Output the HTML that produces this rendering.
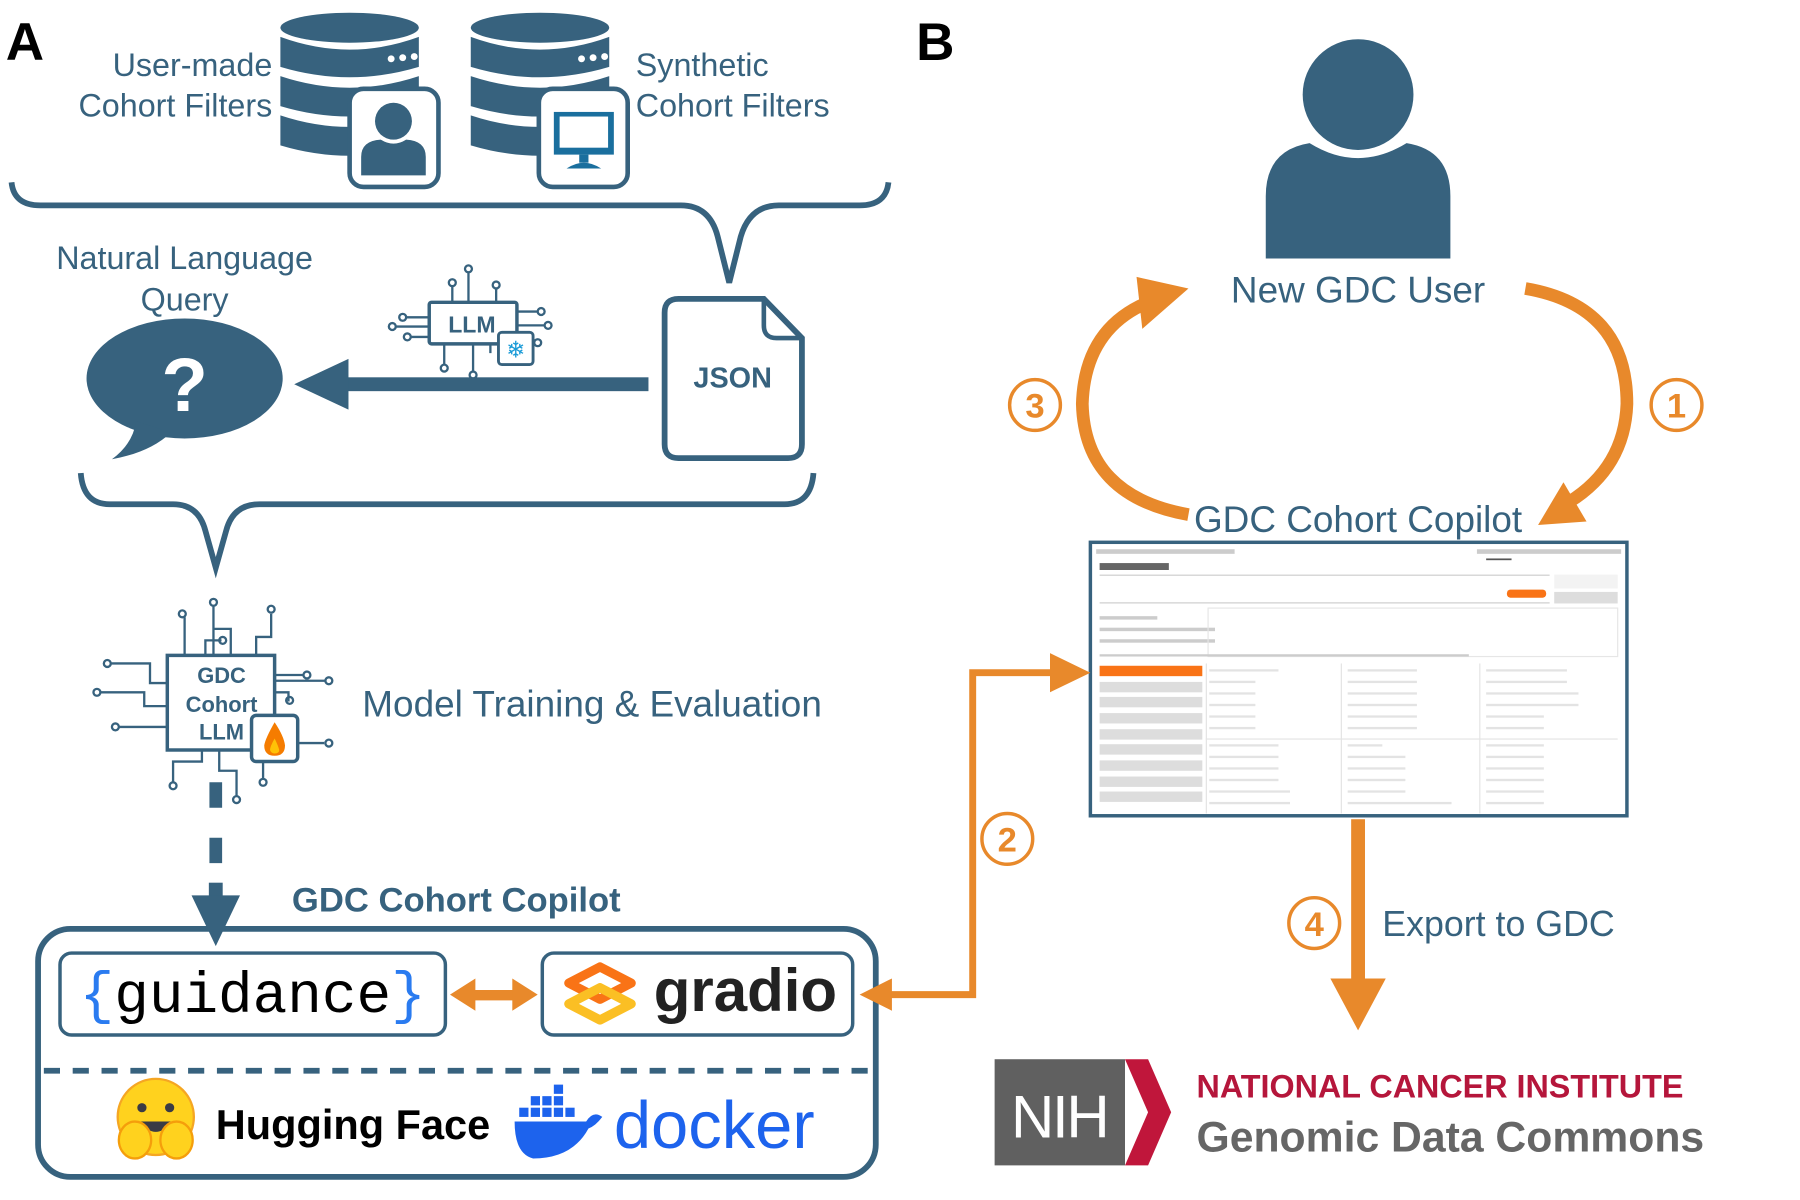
<!DOCTYPE html>
<html><head><meta charset="utf-8"><style>
html,body{margin:0;padding:0;background:#fff;}
svg{display:block;}
text{font-family:"Liberation Sans",sans-serif;}
text.mono{font-family:"Liberation Mono",monospace;}
</style></head><body>
<svg width="1800" height="1200" viewBox="0 0 1560 1040" xmlns="http://www.w3.org/2000/svg">
<defs>
<g id="db">
  <ellipse cx="60" cy="14" rx="60" ry="13" fill="#37627e"/>
  <path d="M0,22 Q60,44 120,22 L120,48 Q60,66 0,48Z" fill="#37627e"/>
  <path d="M0,56 Q60,76 120,56 L120,82 Q60,100 0,82Z" fill="#37627e"/>
  <path d="M0,90 Q60,110 120,90 L120,116 Q60,134 0,116Z" fill="#37627e"/>
  <circle cx="96" cy="41" r="3" fill="#fff"/><circle cx="106" cy="40" r="3" fill="#fff"/><circle cx="116" cy="39" r="3" fill="#fff"/>
</g>
</defs>

<text x="5" y="52" font-size="46" font-weight="bold" fill="#000">A</text>
<text x="794" y="52" font-size="46" font-weight="bold" fill="#000">B</text>

<use href="#db" x="243" y="10"/>
<rect x="303" y="77" width="77" height="85" rx="12" fill="#fff" stroke="#37627e" stroke-width="4"/>
<circle cx="341" cy="105" r="16" fill="#37627e"/>
<path d="M313,152 L313,136 Q313,122 330,121 Q341,128 352,121 Q369,122 369,136 L369,152Z" fill="#37627e"/>
<use href="#db" x="408" y="10"/>
<rect x="467" y="77" width="77" height="85" rx="12" fill="#fff" stroke="#37627e" stroke-width="4"/>
<rect x="480" y="97" width="52" height="37" fill="#1a6f9e"/>
<rect x="485" y="101" width="42" height="27" fill="#fff"/>
<rect x="502" y="134" width="8" height="7" fill="#1a6f9e"/>
<path d="M491,146 Q506,136 521,146Z" fill="#1a6f9e"/>

<g font-size="28" fill="#37627e">
<text x="236" y="66" text-anchor="end">User-made</text>
<text x="236" y="101" text-anchor="end">Cohort Filters</text>
<text x="551" y="66">Synthetic</text>
<text x="551" y="101">Cohort Filters</text>
<text x="160" y="233" text-anchor="middle">Natural Language</text>
<text x="160" y="269" text-anchor="middle">Query</text>
<text x="314" y="621" font-size="32">Model Training &amp; Evaluation</text>
</g>

<path d="M10,158 Q12,178 35,178 L590,178 Q615,178 622,205 L632,245 L642,205 Q650,178 675,178 L745,178 Q768,178 770,158" fill="none" stroke="#37627e" stroke-width="5"/>
<path d="M70,410 Q72,437 95,437 L150,437 Q172,437 178,460 L187,492 L196,460 Q202,437 225,437 L680,437 Q703,437 705,410" fill="none" stroke="#37627e" stroke-width="5"/>

<ellipse cx="160" cy="328" rx="85" ry="52" fill="#37627e"/>
<path d="M118,365 Q115,385 97,398 Q130,392 148,375Z" fill="#37627e"/>
<text x="160" y="356" text-anchor="middle" font-size="66" font-weight="bold" fill="#fff">?</text>

<rect x="298" y="327" width="264" height="12" fill="#37627e"/>
<path d="M255,333 L302,311 L302,355Z" fill="#37627e"/>

<g stroke="#37627e" stroke-width="2" fill="none">
<path d="M392,262 V248 M406,262 V236 M430,262 V250 M385,298 V316 M410,298 V322 M425,298 V306 M372,275 H352 M372,283 H343 M372,292 H356 M448,270 H466 M448,282 H472"/>
<circle cx="392" cy="245" r="3"/><circle cx="406" cy="233" r="3"/><circle cx="430" cy="247" r="3"/>
<circle cx="385" cy="319" r="3"/><circle cx="410" cy="325" r="3"/><circle cx="349" cy="275" r="3"/><circle cx="340" cy="283" r="3"/><circle cx="353" cy="292" r="3"/><circle cx="469" cy="270" r="3"/><circle cx="475" cy="282" r="3"/><circle cx="466" cy="297" r="3"/>
</g>
<rect x="372" y="262" width="76" height="36" rx="2" fill="#fff" stroke="#37627e" stroke-width="3"/>
<text x="409" y="288" text-anchor="middle" font-size="20" font-weight="bold" fill="#37627e">LLM</text>
<rect x="432" y="288" width="30" height="28" rx="3" fill="#fff" stroke="#37627e" stroke-width="2.5"/>
<text x="447" y="310" text-anchor="middle" font-size="20" fill="#1a9bd7">❄</text>

<path d="M588,259 L662,259 L695,293 L695,385 Q695,397 683,397 L588,397 Q576,397 576,385 L576,271 Q576,259 588,259Z" fill="#fff" stroke="#37627e" stroke-width="5"/>
<path d="M662,259 L662,282 Q662,293 673,293 L695,293" fill="none" stroke="#37627e" stroke-width="4"/>
<text x="635" y="336" text-anchor="middle" font-size="25" font-weight="bold" fill="#37627e">JSON</text>

<g stroke="#37627e" stroke-width="2" fill="none">
<path d="M160,568 V535 M178,568 V555 H192 M185,568 V525 V545 H200 V568 M222,568 V552 H235 V532"/>
<circle cx="158" cy="532" r="3"/><circle cx="185" cy="522" r="3"/><circle cx="193" cy="555" r="3"/><circle cx="235" cy="528" r="3"/>
<path d="M145,592 H130 V575 H96 M145,612 H125 V600 H87 M145,630 H103 M238,585 H263 M238,600 H250 V608 M238,605 V590 H283 M258,644 H281 M175,650 V660 H150 V678 M190,650 V668 H205 V690 M228,660 V675"/>
<circle cx="93" cy="575" r="3"/><circle cx="84" cy="600" r="3"/><circle cx="100" cy="630" r="3"/><circle cx="266" cy="585" r="3"/><circle cx="285" cy="590" r="3" /><circle cx="251" cy="607" r="3"/><circle cx="285" cy="644" r="3"/><circle cx="150" cy="681" r="3"/><circle cx="205" cy="693" r="3"/><circle cx="228" cy="678" r="3"/>
</g>
<rect x="145" y="568" width="93" height="82" fill="#fff" stroke="#37627e" stroke-width="3"/>
<g font-size="19" font-weight="bold" fill="#37627e" text-anchor="middle">
<text x="192" y="592">GDC</text><text x="192" y="617">Cohort</text><text x="192" y="641">LLM</text></g>
<rect x="218" y="620" width="40" height="40" rx="4" fill="#fff" stroke="#37627e" stroke-width="3"/>
<path d="M238,626 Q230,640 229,646 Q229,655 238,655 Q247,655 247,646 Q246,638 238,626Z" fill="#f57c00"/>
<path d="M238,640 Q234,647 234,650 Q235,653 238,653 Q242,653 242,650 Q241,646 238,640Z" fill="#ffc107"/>

<path d="M187,678 V760" stroke="#37627e" stroke-width="11" stroke-dasharray="22,26"/>
<rect x="181" y="765" width="12" height="12" fill="#37627e"/>
<path d="M166,776 L208,776 L187,820Z" fill="#37627e"/>
<text x="253" y="790" font-size="30" font-weight="bold" fill="#37627e">GDC Cohort Copilot</text>

<rect x="33" y="805" width="726" height="215" rx="28" fill="none" stroke="#37627e" stroke-width="5"/>
<rect x="52" y="826" width="334" height="71" rx="10" fill="#fff" stroke="#37627e" stroke-width="3"/>
<text class="mono" x="219" y="877" text-anchor="middle" font-size="50" fill="#000"><tspan fill="#2a7bf0">{</tspan>guidance<tspan fill="#2a7bf0">}</tspan></text>
<rect x="470" y="826" width="269" height="71" rx="10" fill="#fff" stroke="#37627e" stroke-width="3"/>
<g fill="none" stroke-width="8" stroke-linejoin="round">
<path d="M520,838 L547,852 L520,866 L493,852Z" stroke="#f97316"/>
<path d="M520,856 L547,870 L520,884 L493,870Z" stroke="#fbbf24"/>
</g>
<text x="646" y="876" text-anchor="middle" font-size="52" font-weight="bold" fill="#222">gradio</text>
<rect x="408" y="858" width="42" height="9" fill="#e8892b"/>
<path d="M390,862 L412,848 L412,876Z M466,862 L444,848 L444,876Z" fill="#e8892b"/>
<path d="M38,928 H755" stroke="#37627e" stroke-width="5" stroke-dasharray="14,11"/>
<circle cx="135" cy="968" r="33" fill="#ffd21e" stroke="#f5a623" stroke-width="2"/>
<circle cx="123" cy="960" r="4" fill="#3a3b45"/><circle cx="147" cy="960" r="4" fill="#3a3b45"/>
<path d="M121,972 Q135,990 149,972Z" fill="#3a3b45"/>
<ellipse cx="117" cy="988" rx="14" ry="16" fill="#ffd21e" stroke="#f59e0b" stroke-width="2"/>
<ellipse cx="153" cy="988" rx="14" ry="16" fill="#ffd21e" stroke="#f59e0b" stroke-width="2"/>
<text x="187" y="987" font-size="36" font-weight="bold" fill="#000">Hugging Face</text>
<g fill="#1d63ed">
<path d="M446,972 L508,972 Q514,962 522,968 Q516,976 510,978 Q496,1004 462,1004 Q446,1000 446,972Z"/>
<rect x="450" y="960" width="8" height="8"/><rect x="460" y="960" width="8" height="8"/><rect x="470" y="960" width="8" height="8"/><rect x="480" y="960" width="8" height="8"/><rect x="490" y="960" width="8" height="8"/>
<rect x="460" y="950" width="8" height="8"/><rect x="470" y="950" width="8" height="8"/><rect x="480" y="950" width="8" height="8"/><rect x="480" y="940" width="8" height="8"/>
</g>
<text x="532" y="995" font-size="58" fill="#1d63ed">docker</text>

<circle cx="1177" cy="82" r="48" fill="#37627e"/>
<path d="M1097,224 L1097,170 Q1097,130 1135,124 Q1177,150 1219,124 Q1257,130 1257,170 L1257,224Z" fill="#37627e"/>
<text x="1177" y="262" text-anchor="middle" font-size="32" fill="#37627e">New GDC User</text>

<path d="M1322,250 Q1410,265 1410,350 Q1408,405 1360,435" fill="none" stroke="#e8892b" stroke-width="11"/>
<path d="M1333,455 L1375,452 L1355,418Z" fill="#e8892b"/>
<path d="M1030,446 Q940,430 938,350 Q940,285 995,262" fill="none" stroke="#e8892b" stroke-width="11"/>
<path d="M1030,250 L985,240 L990,285Z" fill="#e8892b"/>
<g fill="#fff" stroke="#e8892b" stroke-width="3">
<circle cx="1453" cy="351" r="22"/><circle cx="897" cy="351" r="22"/><circle cx="873" cy="727" r="22"/><circle cx="1139" cy="800" r="22"/></g>
<g font-size="30" font-weight="bold" fill="#e8892b" text-anchor="middle">
<text x="1453" y="362">1</text><text x="897" y="362">3</text><text x="873" y="738">2</text><text x="1139" y="811">4</text></g>
<text x="1177" y="461" text-anchor="middle" font-size="32" fill="#37627e">GDC Cohort Copilot</text>

<rect x="945" y="470" width="465" height="237" fill="#fff" stroke="#37627e" stroke-width="3"/>
<g fill="#ccc">
<rect x="950" y="476" width="120" height="4"/><rect x="1280" y="476" width="125" height="4"/>
<rect x="1288" y="484" width="22" height="1.5" fill="#555"/>
<rect x="953" y="488" width="60" height="6" fill="#666"/>
<rect x="953" y="498" width="390" height="1" /><rect x="953" y="522" width="390" height="1"/>
<rect x="1347" y="498" width="55" height="12" fill="#f3f3f3"/>
<rect x="1347" y="513" width="55" height="10" fill="#ddd"/>
<rect x="1306" y="511" width="34" height="7" rx="3" fill="#f97316"/>
<rect x="953" y="534" width="50" height="3"/><rect x="953" y="544" width="100" height="3"/><rect x="953" y="554" width="100" height="3"/>
<rect x="1047" y="527" width="355" height="42" fill="none" stroke="#e6e6e6"/>
<rect x="953" y="567" width="320" height="2"/>
</g>
<rect x="953" y="577" width="89" height="9" fill="#f97316"/>
<g fill="#ddd">
<rect x="953" y="591" width="89" height="9"/><rect x="953" y="604" width="89" height="9"/><rect x="953" y="618" width="89" height="9"/><rect x="953" y="632" width="89" height="9"/><rect x="953" y="645" width="89" height="9"/><rect x="953" y="659" width="89" height="9"/><rect x="953" y="673" width="89" height="9"/><rect x="953" y="686" width="89" height="9"/>
</g>
<g fill="#e3e3e3">
<rect x="1048" y="580" width="60" height="2"/><rect x="1048" y="590" width="40" height="2"/><rect x="1048" y="600" width="40" height="2"/><rect x="1048" y="610" width="40" height="2"/><rect x="1048" y="620" width="40" height="2"/><rect x="1048" y="630" width="40" height="2"/>
<rect x="1168" y="580" width="60" height="2"/><rect x="1168" y="590" width="60" height="2"/><rect x="1168" y="600" width="60" height="2"/><rect x="1168" y="610" width="60" height="2"/><rect x="1168" y="620" width="60" height="2"/><rect x="1168" y="630" width="60" height="2"/>
<rect x="1288" y="580" width="70" height="2"/><rect x="1288" y="590" width="70" height="2"/><rect x="1288" y="600" width="80" height="2"/><rect x="1288" y="610" width="80" height="2"/><rect x="1288" y="620" width="50" height="2"/><rect x="1288" y="630" width="50" height="2"/>
<rect x="1048" y="645" width="60" height="2"/><rect x="1048" y="655" width="60" height="2"/><rect x="1048" y="665" width="60" height="2"/><rect x="1048" y="675" width="60" height="2"/><rect x="1048" y="685" width="70" height="2"/><rect x="1048" y="695" width="70" height="2"/>
<rect x="1168" y="645" width="30" height="2"/><rect x="1168" y="655" width="50" height="2"/><rect x="1168" y="665" width="50" height="2"/><rect x="1168" y="675" width="50" height="2"/><rect x="1168" y="685" width="50" height="2"/><rect x="1168" y="695" width="90" height="2"/>
<rect x="1288" y="645" width="50" height="2"/><rect x="1288" y="655" width="50" height="2"/><rect x="1288" y="665" width="50" height="2"/><rect x="1288" y="675" width="50" height="2"/><rect x="1288" y="685" width="50" height="2"/><rect x="1288" y="695" width="50" height="2"/>
<rect x="1045" y="575" width="1" height="130"/><rect x="1162" y="575" width="1" height="130"/><rect x="1282" y="575" width="1" height="130"/><rect x="1045" y="640" width="357" height="1"/>
</g>

<path d="M760,862 H843 V583 H915" fill="none" stroke="#e8892b" stroke-width="6"/>
<path d="M745,862 L773,848 L773,876Z" fill="#e8892b"/>
<path d="M945,583 L910,566 L910,600Z" fill="#e8892b"/>

<rect x="1171" y="710" width="12" height="140" fill="#e8892b"/>
<path d="M1153,848 L1201,848 L1177,893Z" fill="#e8892b"/>
<text x="1198" y="811" font-size="31" fill="#37627e">Export to GDC</text>

<rect x="862" y="918" width="113" height="92" fill="#606060"/>
<path d="M975,918 L995,918 L1015,964 L995,1010 L975,1010 L995,964Z" fill="#c0163b"/>
<text x="918" y="986" text-anchor="middle" font-size="52" fill="#fff" letter-spacing="-2">NIH</text>
<text x="1037" y="951" font-size="28" font-weight="bold" fill="#b5163b">NATIONAL CANCER INSTITUTE</text>
<text x="1037" y="998" font-size="37" font-weight="bold" fill="#666">Genomic Data Commons</text>
</svg>
</body></html>
